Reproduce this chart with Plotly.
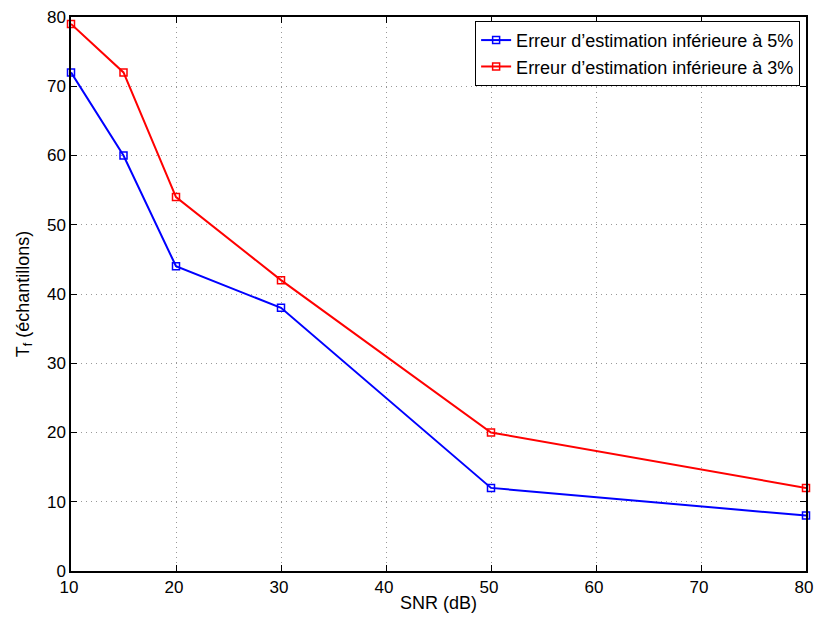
import plotly.graph_objects as go

snr = [10, 15, 20, 30, 50, 80]
err5 = [72, 60, 44, 38, 12, 8]
err3 = [79, 72, 54, 42, 20, 12]
names = ["Erreur d’estimation inférieure à 5%", "Erreur d’estimation inférieure à 3%"]
xticks = [10, 20, 30, 40, 50, 60, 70, 80]
yticks = [0, 10, 20, 30, 40, 50, 60, 70, 80]

FONT = "Liberation Sans"

fig = go.Figure()
for y, name, col in [(err5, names[0], "#0000ff"), (err3, names[1], "#ff0000")]:
    fig.add_trace(go.Scatter(
        x=snr, y=y, name=name, mode="lines+markers",
        line=dict(color=col, width=2),
        marker=dict(symbol="square-open", size=7, color=col, line=dict(width=1.5, color=col)),
        cliponaxis=False,
    ))

axis_common = dict(
    showline=True, linecolor="black", linewidth=1.5, mirror="ticks",
    ticks="inside", ticklen=6, tickcolor="black", tickwidth=1,
    showgrid=True, gridcolor="#999999", griddash="1px,4px", gridwidth=1,
    zeroline=False, automargin=False, ticklabeloverflow="allow",
    tickfont=dict(family=FONT, size=17, color="black"),
)
fig.update_xaxes(range=[10, 80], tickvals=xticks, ticklabelshift=-2,
                 title=dict(text="SNR (dB)", font=dict(family=FONT, size=18, color="black"), standoff=0),
                 **axis_common)
fig.update_yaxes(range=[0, 80], tickvals=yticks,
                 title=dict(text="T<sub>f</sub> (échantillons)", font=dict(family=FONT, size=18, color="black"), standoff=13),
                 **axis_common)

fig.update_layout(
    width=814, height=617,
    margin=dict(l=71, r=8, t=17, b=46),
    plot_bgcolor="white", paper_bgcolor="white",
    legend=dict(x=0.992, y=0.993, xanchor="right", yanchor="top",
                bgcolor="white", bordercolor="black", borderwidth=1,
                font=dict(family=FONT, size=18, color="black"),
                tracegroupgap=0, itemwidth=30),
    showlegend=True,
)
fig.write_html("out.html",
               config={"displayModeBar": False},
               post_script="document.body.style.margin='0';document.body.style.overflow='hidden';")
